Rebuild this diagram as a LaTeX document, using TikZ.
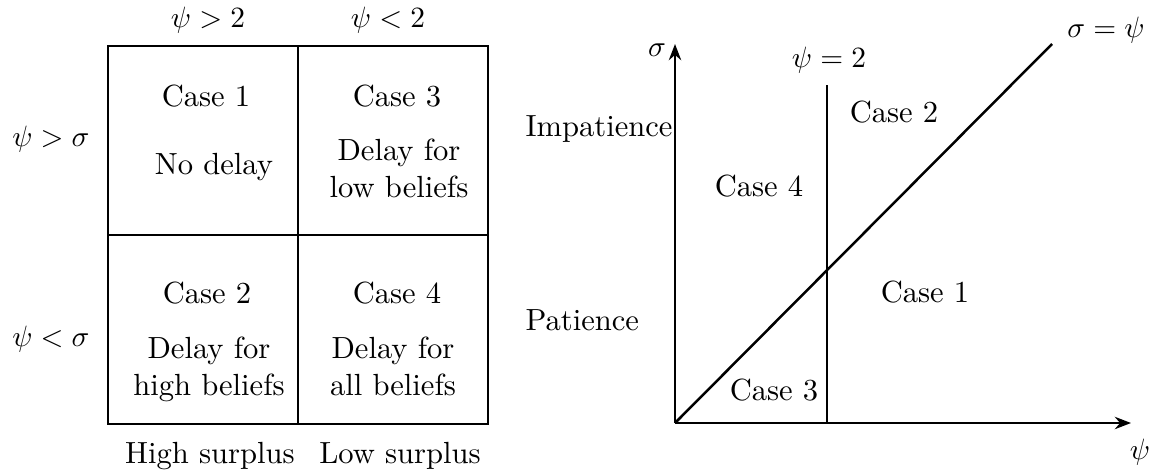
\documentclass[tikz,border=0pt]{standalone}
\usetikzlibrary{arrows.meta}
\begin{document}
\begin{tikzpicture}[x=0.34pt,y=-0.34pt,
  ln/.style={line width=0.85pt},
  lbl/.style={inner sep=0pt,align=center,font=\fontsize{10.4pt}{12.6pt}\selectfont},
  ax/.style={line width=0.85pt,-{Stealth[length=5.5pt,width=4.2pt]}}]
\useasboundingbox (0,0) rectangle (1162,472);
% left table
\coordinate (tl) at (108,46);
\coordinate (br) at (488,424);
\draw[ln] (tl) rectangle (br);
\coordinate (mt) at (298,46); \coordinate (mb) at (298,424);
\coordinate (ml) at (108,235); \coordinate (mr) at (488,235);
\draw[ln] (mt) -- (mb);
\draw[ln] (ml) -- (mr);
\node[lbl] (h1) at (208,20) {$\psi>2$};
\node[lbl] (h2) at (388,20) {$\psi<2$};
\node[lbl] (r1) at (51,139) {$\psi>\sigma$};
\node[lbl] (r2) at (51,339) {$\psi<\sigma$};
\node[lbl] (c1) at (206,96) {Case 1};
\node[lbl] (c1t) at (214,167) {No delay};
\node[lbl] (c3) at (397,96) {Case 3};
\node[lbl] (c3t) at (399,168) {Delay for\\low beliefs};
\node[lbl] (c2) at (207,293) {Case 2};
\node[lbl] (c2t) at (209,369) {Delay for\\high beliefs};
\node[lbl] (c4) at (397,293) {Case 4};
\node[lbl] (c4t) at (393,366) {Delay for\\all beliefs};
\node[lbl] (b1) at (210,456) {High surplus};
\node[lbl] (b2) at (400,456) {Low surplus};
% right chart
\coordinate (O) at (675,423);
\coordinate (Y) at (675,44);
\coordinate (X) at (1131,423);
\draw[ax] (O) -- (Y);
\draw[ax] (O) -- (X);
\node[lbl] (sig) at (657,50) {$\sigma$};
\node[lbl] (psi) at (1140,452) {$\psi$};
\coordinate (vt) at (827,85);
\coordinate (vb) at (827,423);
\draw[ln] (vt) -- (vb);
\node[lbl] (p2) at (829,60) {$\psi=2$};
\coordinate (dt) at (1052,44);
\draw[ln] (O) -- (dt);
\node[lbl] (sp) at (1106,30) {$\sigma=\psi$};
\node[lbl,anchor=west] (imp) at (525,129) {Impatience};
\node[lbl,anchor=west] (pat) at (525,320) {Patience};
\node[lbl] (k2) at (894,112) {Case 2};
\node[lbl] (k4) at (759,186) {Case 4};
\node[lbl] (k1) at (925,292) {Case 1};
\node[lbl] (k3) at (774,390) {Case 3};
\end{tikzpicture}
\end{document}
